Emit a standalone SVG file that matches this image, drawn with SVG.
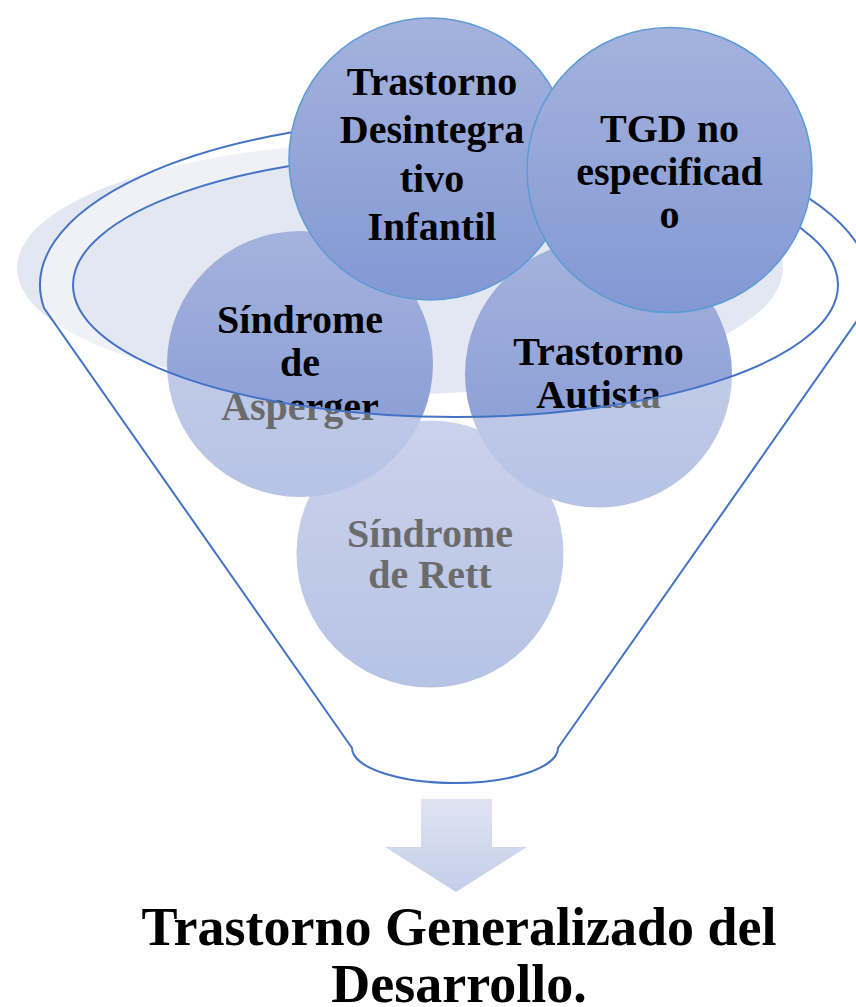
<svg xmlns="http://www.w3.org/2000/svg" width="856" height="1007" viewBox="0 0 856 1007">
<defs>
<linearGradient id="gc" x1="0" y1="0" x2="0" y2="1">
<stop offset="0" stop-color="#a4b2dd"/>
<stop offset="1" stop-color="#8398d3"/>
</linearGradient>
<linearGradient id="ga" x1="0" y1="0" x2="0" y2="1">
<stop offset="0" stop-color="#dfe4f2"/>
<stop offset="1" stop-color="#c4ceea"/>
</linearGradient>
<style>
.c{fill:url(#gc);}
.ct{stroke:#5b9bd5;stroke-width:1.5;}
.t{font-family:"Liberation Serif","Times New Roman",serif;font-weight:bold;font-size:40px;fill:#000;text-anchor:middle;}
.b{font-family:"Liberation Serif","Times New Roman",serif;font-weight:bold;font-size:54px;fill:#000;text-anchor:middle;}
.fl{fill:none;stroke:#4472c4;stroke-width:2;}
</style>
</defs>
<ellipse id="shade" cx="400" cy="268" rx="383" ry="126" fill="#e3e7f2"/>
<g id="node-rett">
<circle class="c" cx="430" cy="554" r="133.5"/>
<text class="t" x="430" y="547">Síndrome</text>
<text class="t" x="430" y="588">de Rett</text>
</g>
<g id="node-asperger">
<circle class="c" cx="300" cy="364" r="133"/>
<text class="t" x="300" y="333">Síndrome</text>
<text class="t" x="300" y="376">de</text>
<text class="t" x="300" y="420">Asperger</text>
</g>
<g id="node-autista">
<circle class="c" cx="598.5" cy="374" r="133.5"/>
<text class="t" x="598.5" y="365">Trastorno</text>
<text class="t" x="598.5" y="408">Autista</text>
</g>
<g id="funnel">
<path d="M44,308 A415 166 0 1 1 866,308 L558,748 A103 35 0 0 1 352,748 Z M73,285 A382.5 132 0 1 0 838,285 A382.5 132 0 1 0 73,285 Z" fill="#fff" fill-opacity="0.42" fill-rule="evenodd"/>
<path class="fl" d="M44,308 A415 166 0 1 1 866,308 L558,748 A103 35 0 0 1 352,748 Z"/>
<ellipse class="fl" cx="455.5" cy="285" rx="382.5" ry="132"/>
</g>
<g id="node-desintegrativo">
<circle class="c ct" cx="430" cy="159" r="141"/>
<text class="t" x="432" y="95">Trastorno</text>
<text class="t" x="432" y="143">Desintegra</text>
<text class="t" x="432" y="192">tivo</text>
<text class="t" x="432" y="240">Infantil</text>
</g>
<g id="node-tgd">
<circle class="c ct" cx="669.5" cy="170" r="142.5"/>
<text class="t" x="669.5" y="142">TGD no</text>
<text class="t" x="669.5" y="185">especificad</text>
<text class="t" x="669.5" y="228">o</text>
</g>
<g id="connectors">
<path d="M421,799 H492 V847 H527 L456,892 L385,847 H421 Z" fill="url(#ga)"/>
</g>
<g id="node-result">
<text class="b" x="459" y="945">Trastorno Generalizado del</text>
<text class="b" x="459" y="1002">Desarrollo.</text>
</g>
</svg>
